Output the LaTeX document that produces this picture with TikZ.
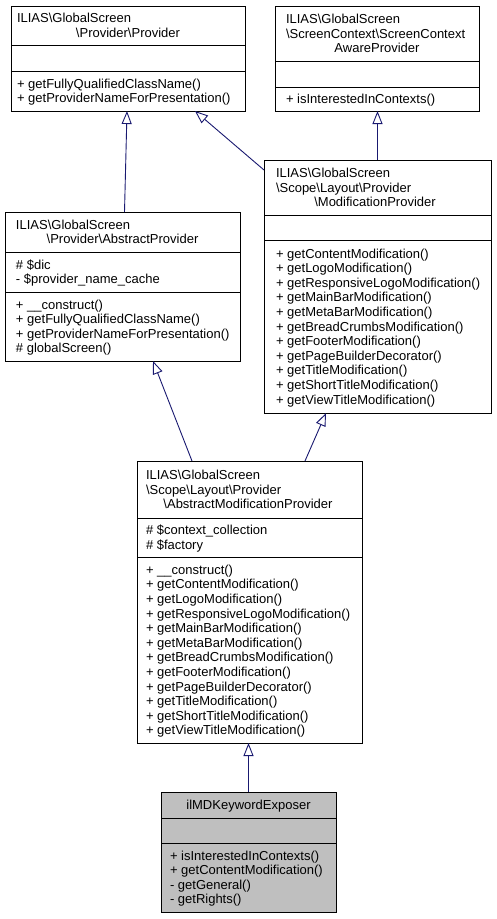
\documentclass[tikz,border=0pt]{standalone}
\usepackage{fontspec}
\setmainfont{Liberation Sans}
\usetikzlibrary{arrows.meta}
\definecolor{edgeblue}{HTML}{191970}
\definecolor{curfill}{HTML}{BFBFBF}
\tikzset{
  umlbox/.style={draw=black, line width=0.9pt, fill=white, anchor=north west, inner sep=0pt, outer sep=0pt},
  umldiv/.style={draw=black, line width=0.9pt},
  txt/.style={inner sep=0pt, outer sep=0pt, font=\fontsize{13}{14.6}\selectfont},
  inherit/.style={draw=edgeblue, line width=0.9pt, -{Triangle[length=13pt, width=10pt, fill=white]}}
}
% #1 name, #2 left x, #3 top, #4 bottom, #5 n, #6 list of lines
\newcommand\umltext[6]{%
  \foreach \t [count=\i] in {#6}{%
    \pgfmathsetmacro\yy{(#3+#4)/2 + (\i-1-(#5-1)/2)*14.6 + 4.5}%
    \node[txt, anchor=base west] (#1-\i) at (#2,\yy) {\t};
  }}
% #1 name, #2 left x, #3 centre x, #4 top, #5 bottom, #6 n, #7 list (last line centred)
\newcommand\umltitle[7]{%
  \foreach \t [count=\i] in {#7}{%
    \pgfmathsetmacro\yy{(#4+#5)/2 + (\i-1-(#6-1)/2)*14.6 + 4.5}%
    \ifnum\i=#6\relax
      \node[txt, anchor=base] (#1-\i) at (#3,\yy) {\t};
    \else
      \node[txt, anchor=base west] (#1-\i) at (#2,\yy) {\t};
    \fi
  }}
\begin{document}
\begin{tikzpicture}[x=1pt, y=-1pt]
\useasboundingbox (0,0) rectangle (496,919);

% ---------- B1: Provider ----------
\node[umlbox, minimum width=234pt, minimum height=105pt] (b1) at (11,6) {};
\draw[umldiv] (b1.west |- 0,45) -- (b1.east |- 0,45);
\draw[umldiv] (b1.west |- 0,71) -- (b1.east |- 0,71);
\umltitle{b1t}{17}{128}{6}{45}{2}{{ILIAS\textbackslash GlobalScreen},{\textbackslash Provider\textbackslash Provider}}
\umltext{b1m}{17}{71}{111}{2}{{+ getFullyQualifiedClassName()},{+ getProviderNameForPresentation()}}

% ---------- B2: ScreenContextAwareProvider ----------
\node[umlbox, minimum width=204pt, minimum height=105pt] (b2) at (275,6) {};
\draw[umldiv] (b2.west |- 0,61) -- (b2.east |- 0,61);
\draw[umldiv] (b2.west |- 0,87) -- (b2.east |- 0,87);
\umltitle{b2t}{286}{377}{6}{61}{3}{{ILIAS\textbackslash GlobalScreen},{\textbackslash ScreenContext\textbackslash ScreenContext},{AwareProvider}}
\umltext{b2m}{286}{87}{111}{1}{{+ isInterestedInContexts()}}

% ---------- B3: AbstractProvider ----------
\node[umlbox, minimum width=235pt, minimum height=149pt] (b3) at (5,212) {};
\draw[umldiv] (b3.west |- 0,252) -- (b3.east |- 0,252);
\draw[umldiv] (b3.west |- 0,292) -- (b3.east |- 0,292);
\umltitle{b3t}{16}{122.5}{212}{252}{2}{{ILIAS\textbackslash GlobalScreen},{\textbackslash Provider\textbackslash AbstractProvider}}
\umltext{b3a}{16}{252}{292}{2}{{\# \$dic},{- \$provider\_name\_cache}}
\umltext{b3m}{16}{292}{361}{4}{{+ \_\_construct()},{+ getFullyQualifiedClassName()},{+ getProviderNameForPresentation()},{\# globalScreen()}}

% ---------- B4: ModificationProvider ----------
\node[umlbox, minimum width=227pt, minimum height=253pt] (b4) at (264,160) {};
\draw[umldiv] (b4.west |- 0,215) -- (b4.east |- 0,215);
\draw[umldiv] (b4.west |- 0,240) -- (b4.east |- 0,240);
\umltitle{b4t}{276}{375}{160}{215}{3}{{ILIAS\textbackslash GlobalScreen},{\textbackslash Scope\textbackslash Layout\textbackslash Provider},{\textbackslash ModificationProvider}}
\umltext{b4m}{276}{240}{413}{11}{{+ getContentModification()},{+ getLogoModification()},{+ getResponsiveLogoModification()},{+ getMainBarModification()},{+ getMetaBarModification()},{+ getBreadCrumbsModification()},{+ getFooterModification()},{+ getPageBuilderDecorator()},{+ getTitleModification()},{+ getShortTitleModification()},{+ getViewTitleModification()}}

% ---------- B5: AbstractModificationProvider ----------
\node[umlbox, minimum width=225pt, minimum height=282pt] (b5) at (137,461) {};
\draw[umldiv] (b5.west |- 0,518) -- (b5.east |- 0,518);
\draw[umldiv] (b5.west |- 0,557) -- (b5.east |- 0,557);
\umltitle{b5t}{146}{248}{461}{518}{3}{{ILIAS\textbackslash GlobalScreen},{\textbackslash Scope\textbackslash Layout\textbackslash Provider},{\textbackslash AbstractModificationProvider}}
\umltext{b5a}{146}{518}{557}{2}{{\# \$context\_collection},{\# \$factory}}
\umltext{b5m}{146}{557}{743}{12}{{+ \_\_construct()},{+ getContentModification()},{+ getLogoModification()},{+ getResponsiveLogoModification()},{+ getMainBarModification()},{+ getMetaBarModification()},{+ getBreadCrumbsModification()},{+ getFooterModification()},{+ getPageBuilderDecorator()},{+ getTitleModification()},{+ getShortTitleModification()},{+ getViewTitleModification()}}

% ---------- B6: ilMDKeywordExposer ----------
\node[umlbox, fill=curfill, minimum width=175pt, minimum height=120pt] (b6) at (161,792) {};
\draw[umldiv] (b6.west |- 0,818) -- (b6.east |- 0,818);
\draw[umldiv] (b6.west |- 0,843) -- (b6.east |- 0,843);
\umltitle{b6t}{170}{248.5}{792}{818}{1}{{ilMDKeywordExposer}}
\umltext{b6m}{170}{843}{912}{4}{{+ isInterestedInContexts()},{+ getContentModification()},{- getGeneral()},{- getRights()}}

% ---------- inheritance edges ----------
\draw[inherit] ([xshift=2pt]b3.north) -- ([xshift=-1pt]b1.south);
\draw[inherit] ([yshift=-10pt]b4.north west) -- ([xshift=67pt]b1.south);
\draw[inherit] (b4.north) -- (b4.north |- b2.south);
\draw[inherit] ([xshift=-57.5pt]b5.north) -- ([xshift=30.5pt]b3.south);
\draw[inherit] ([xshift=55.5pt]b5.north) -- ([xshift=-51.5pt]b4.south);
\draw[inherit] (b6.north) -- (b6.north |- b5.south);
\end{tikzpicture}
\end{document}
